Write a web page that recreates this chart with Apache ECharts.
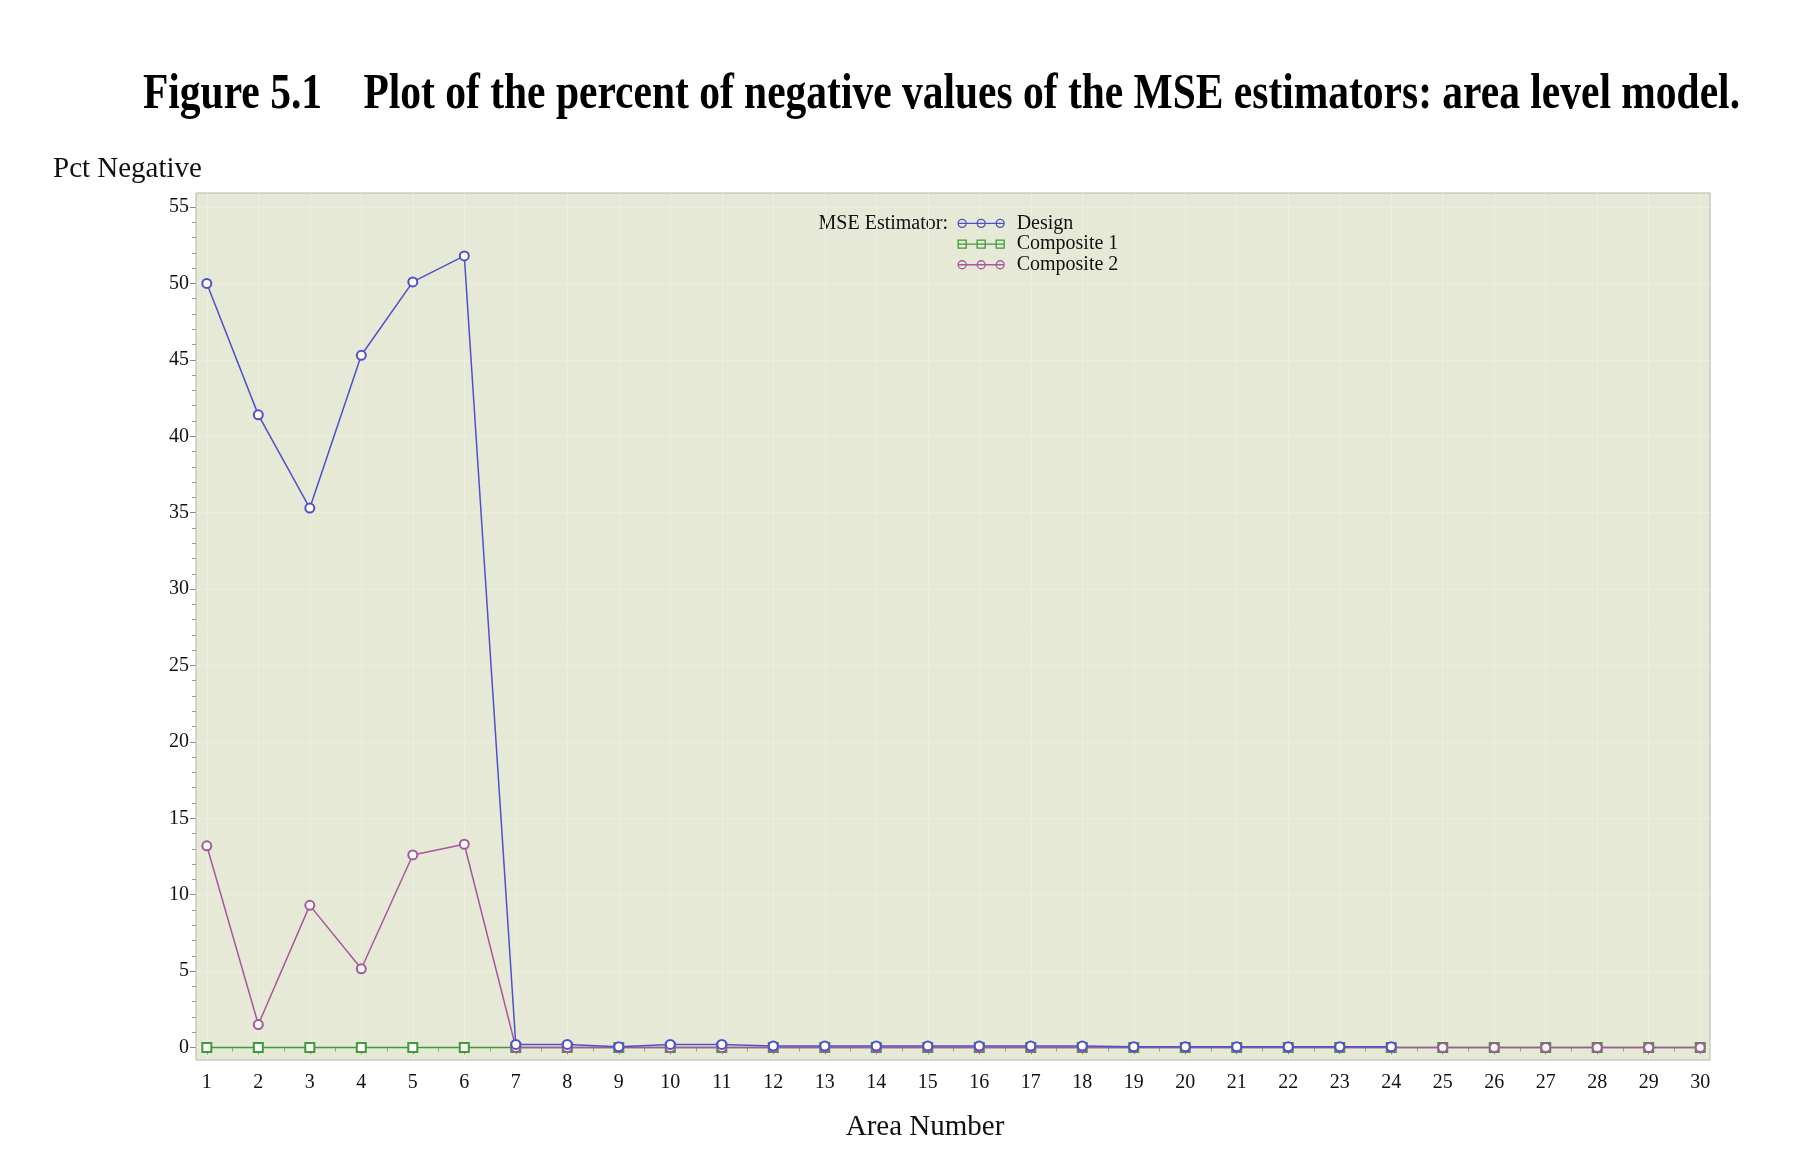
<!DOCTYPE html>
<html>
<head>
<meta charset="utf-8">
<title>Figure 5.1</title>
<script src="https://cdn.jsdelivr.net/npm/echarts@6/dist/echarts.min.js"></script>
<style>
  html, body { margin: 0; padding: 0; background: #fff; }
  #chart { width: 1799px; height: 1171px; }
</style>
</head>
<body>
<div id="chart"></div>
<script>
// area numbers on the x axis
const areas = [1, 2, 3, 4, 5, 6, 7, 8, 9, 10, 11, 12, 13, 14, 15, 16, 17, 18, 19, 20,
  21, 22, 23, 24, 25, 26, 27, 28, 29, 30];
// percent negative
const design = [50.0, 41.4, 35.3, 45.3, 50.1, 51.8, 0.2, 0.2, 0.05, 0.2, 0.2, 0.1, 0.1, 0.1,
  0.1, 0.1, 0.1, 0.1, 0.05, 0.05, 0.05, 0.05, 0.05, 0.05, null, null, null, null, null, null];
const composite1 = [0, 0, 0, 0, 0, 0, 0, 0, 0, 0, 0, 0, 0, 0, 0, 0, 0, 0, 0, 0,
  0, 0, 0, 0, 0, 0, 0, 0, 0, 0];
const composite2 = [13.2, 1.5, 9.3, 5.15, 12.6, 13.3, 0, 0, 0, 0, 0, 0, 0, 0, 0, 0, 0, 0, 0, 0,
  0, 0, 0, 0, 0, 0, 0, 0, 0, 0];
const yTicks = [0, 5, 10, 15, 20, 25, 30, 35, 40, 45, 50, 55];

const FONT = "'Liberation Serif', 'DejaVu Serif', serif";
const BLUE = '#5050cc';
const GREEN = '#3f9a3c';
const PINK = '#a8579e';

// minor ticks: 4 between y majors, 1 between x majors
const yMinor = [];
yTicks.slice(0, -1).forEach((t) => { for (let k = 1; k < 5; k++) yMinor.push(t + k); });
const xMinor = areas.slice(0, -1).map((a) => a + 0.5);

const titleText = 'Figure 5.1    Plot of the percent of negative values of the MSE estimators: area level model.';
// the original title face is condensed, so squeeze a normal bold serif to the same width
const ctx = document.createElement('canvas').getContext('2d');
ctx.font = "bold 50px 'Liberation Serif'";
const titleScale = 1597 / ctx.measureText(titleText).width;

const toPairs = (vals) => areas.map((a, i) => [a, vals[i]]);

const legendIcon = {
  circle: 'path://M0,5L47,5M0.5,5a4,4 0 1,0 8,0a4,4 0 1,0 -8,0M19.5,5a4,4 0 1,0 8,0a4,4 0 1,0 -8,0M38.5,5a4,4 0 1,0 8,0a4,4 0 1,0 -8,0',
  square: 'path://M0,5L47,5M0.5,1h8v8h-8zM19.5,1h8v8h-8zM38.5,1h8v8h-8z',
};

const chart = echarts.init(document.getElementById('chart'), null, { renderer: 'canvas' });

const xBase = {
  type: 'value',
  min: 0.79,
  max: 30.19,
  position: 'bottom',
  axisLine: { show: false },
  splitLine: { show: false },
};
const yBase = {
  type: 'value',
  min: -0.82,
  max: 55.92,
  position: 'left',
  axisLine: { show: false },
  splitLine: { show: false },
};

chart.setOption({
  animation: false,
  backgroundColor: '#ffffff',
  grid: {
    left: 196,
    right: 89,
    top: 193,
    bottom: 111,
    show: true,
    backgroundColor: '#e6e9d5',
    borderColor: '#b4b6ac',
    borderWidth: 1,
  },
  graphic: [
    {
      type: 'text',
      x: 941.5,
      y: 95,
      scaleX: titleScale,
      style: {
        text: titleText,
        font: "bold 50px 'Liberation Serif', 'DejaVu Serif', serif",
        fill: '#000',
        align: 'center',
        verticalAlign: 'middle',
      },
    },
    {
      type: 'text',
      x: 53,
      y: 169,
      style: { text: 'Pct Negative', font: "29px " + FONT, fill: '#111', align: 'left', verticalAlign: 'middle' },
    },
    {
      type: 'text',
      x: 925,
      y: 1127,
      style: { text: 'Area Number', font: "29px " + FONT, fill: '#111', align: 'center', verticalAlign: 'middle' },
    },
    {
      type: 'text',
      x: 948,
      y: 224,
      style: { text: 'MSE Estimator:', font: "20px " + FONT, fill: '#111', align: 'right', verticalAlign: 'middle' },
    },
  ],
  legend: {
    orient: 'vertical',
    left: 952,
    top: 208,
    itemWidth: 47,
    itemHeight: 8,
    itemGap: 0,
    selectedMode: false,
    textStyle: { fontFamily: FONT, fontSize: 20, color: '#111', lineHeight: 20.7, padding: [0, 0, 0, 7] },
    data: [
      { name: 'Design', icon: legendIcon.circle, itemStyle: { color: 'transparent', borderColor: BLUE, borderWidth: 1.3 } },
      { name: 'Composite 1', icon: legendIcon.square, itemStyle: { color: 'transparent', borderColor: GREEN, borderWidth: 1.3 } },
      { name: 'Composite 2', icon: legendIcon.circle, itemStyle: { color: 'transparent', borderColor: PINK, borderWidth: 1.3 } },
    ],
  },
  xAxis: [
    {
      ...xBase,
      axisTick: { show: true, length: 7, customValues: areas, lineStyle: { color: '#8c8c8c' } },
      axisLabel: { customValues: areas, margin: 13, fontFamily: FONT, fontSize: 20, color: '#111' },
      splitLine: { show: true, lineStyle: { color: '#eceee0', width: 1 } },
    },
    {
      ...xBase,
      axisTick: { show: true, length: 4, customValues: xMinor, lineStyle: { color: '#9a9a9a' } },
      axisLabel: { show: false },
    },
  ],
  yAxis: [
    {
      ...yBase,
      axisTick: { show: true, length: 6, customValues: yTicks, lineStyle: { color: '#8c8c8c' } },
      axisLabel: { customValues: yTicks, margin: 7, fontFamily: FONT, fontSize: 20, color: '#111' },
      splitLine: { show: true, lineStyle: { color: '#eceee0', width: 1 } },
    },
    {
      ...yBase,
      axisTick: { show: true, length: 4, customValues: yMinor, lineStyle: { color: '#9a9a9a' } },
      axisLabel: { show: false },
    },
  ],
  series: [
    {
      name: 'Composite 1',
      type: 'line',
      data: toPairs(composite1),
      symbol: 'emptyRect',
      symbolSize: 9,
      color: GREEN,
      lineStyle: { width: 1.5, color: GREEN },
      itemStyle: { color: GREEN, borderWidth: 1.3 },
      z: 2,
    },
    {
      name: 'Composite 2',
      type: 'line',
      data: toPairs(composite2),
      symbol: 'emptyCircle',
      symbolSize: 9,
      color: PINK,
      lineStyle: { width: 1.5, color: PINK },
      itemStyle: { color: PINK, borderWidth: 1.3 },
      z: 3,
    },
    {
      name: 'Design',
      type: 'line',
      data: toPairs(design),
      symbol: 'emptyCircle',
      symbolSize: 9,
      color: BLUE,
      lineStyle: { width: 1.5, color: BLUE },
      itemStyle: { color: BLUE, borderWidth: 1.3 },
      z: 4,
    },
  ],
});
</script>
</body>
</html>
